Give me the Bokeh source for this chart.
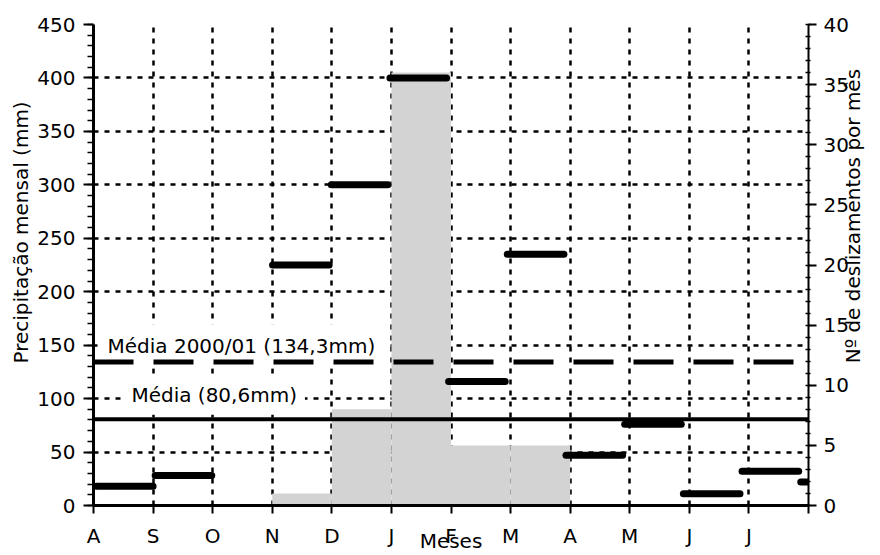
import math
from bokeh.plotting import figure
from bokeh.models import Range1d, LinearAxis, FixedTicker, Label, Span, Title
from bokeh.embed import file_html
from bokeh.resources import INLINE

# ---- data ----
meses = ["A", "S", "O", "N", "D", "J", "F", "M", "A", "M", "J", "J"]
precip_mm = [18, 28, 118, 225, 300, 400, 116, 235, 47, 76, 11, 32, 22]
deslizamentos = [0, 0, 0, 1, 8, 36, 5, 5, 0, 0, 0, 0]
media_total = 80.6
media_2000 = 134.3
label_media_2000 = "Média 2000/01 (134,3mm)"
label_media_total = "Média (80,6mm)"
titulo_esq = "Precipitação mensal (mm)"
titulo_dir = "Nº de deslizamentos por mês"
titulo_x = "Meses"

FONT = "DejaVu Sans"
FS = "20px"
TITLE_TICK = 23.2  # where the rotated right-hand title is anchored (right scale)

p = figure(width=880, height=555, output_backend="svg", toolbar_location=None,
           x_range=Range1d(0, 12), y_range=Range1d(0, 450),
           min_border_left=93, min_border_right=70, min_border_top=24, min_border_bottom=50)
p.extra_y_ranges = {"n": Range1d(0, 40)}
p.outline_line_color = None
p.background_fill_color = "white"
p.border_fill_color = "white"

# grid
p.xgrid.ticker = FixedTicker(ticks=list(range(1, 12)))
p.ygrid.ticker = FixedTicker(ticks=list(range(50, 451, 50)))
for g in (p.xgrid[0], p.ygrid[0]):
    g.grid_line_color = "black"
    g.grid_line_width = 2.5
    g.grid_line_dash = "5 6"

# left axis
ya = p.yaxis[0]
ya.ticker = FixedTicker(ticks=list(range(0, 451, 50)), minor_ticks=list(range(0, 451, 10)))
ya.axis_line_width = 3
ya.major_tick_out = 10
ya.major_tick_in = 0
ya.minor_tick_out = 6
ya.minor_tick_in = 0
ya.major_tick_line_width = 2
ya.minor_tick_line_width = 1.5
ya.major_label_standoff = 8

# bottom axis
xa = p.xaxis[0]
xa.ticker = FixedTicker(ticks=list(range(13)), minor_ticks=[])
ov = {i: meses[i] for i in range(12)}
ov[12] = ""
xa.major_label_overrides = ov
xa.axis_line_width = 3
xa.major_tick_out = 8
xa.major_tick_in = 0
xa.major_tick_line_width = 2
xa.major_label_standoff = 10
xa.axis_label = titulo_x
xa.axis_label_standoff = -22
xa.axis_label_text_font_style = "normal"
xa.axis_label_text_line_height = 1.0
xa.major_label_text_line_height = 1.0

# right axis (landslides)
ra = LinearAxis(y_range_name="n",
                ticker=FixedTicker(ticks=list(range(0, 41, 5)), minor_ticks=list(range(0, 41, 1))))
ra.axis_line_width = 2
ra.major_tick_out = 8
ra.major_tick_in = 0
ra.minor_tick_out = 2
ra.minor_tick_in = 3
ra.major_tick_line_width = 2
ra.minor_tick_line_width = 1.5
ra.major_label_standoff = 7
p.add_layout(ra, "right")

# right title drawn as a rotated single tick label of an extra axis
rt = LinearAxis(y_range_name="n", ticker=FixedTicker(ticks=[TITLE_TICK], minor_ticks=[]))
rt.major_label_overrides = {TITLE_TICK: titulo_dir}
rt.major_label_orientation = math.pi / 2
rt.major_label_text_line_height = 1.0
rt.major_tick_out = 0
rt.major_tick_in = 0
rt.minor_tick_out = 0
rt.minor_tick_in = 0
rt.axis_line_color = None
rt.major_tick_line_color = None
rt.minor_tick_line_color = None
rt.major_label_standoff = 2
p.add_layout(rt, "right")

for ax in (ya, xa, ra, rt):
    ax.major_label_text_font = FONT
    ax.major_label_text_font_size = FS
    ax.major_label_text_color = "black"
    ax.axis_label_text_font = FONT
    ax.axis_label_text_font_size = FS
    ax.axis_label_text_color = "black"
for ax in (ya, xa, ra):
    ax.axis_line_color = "black"

# left title, positioned from the bottom of the frame
p.add_layout(Title(text=titulo_esq, align="left", offset=142,
                   text_font=FONT, text_font_size=FS, text_font_style="normal",
                   text_color="black", standoff=4), "left")

# landslide bars (right axis)
idx = list(range(len(deslizamentos)))
p.quad(left=idx, right=[i + 1 for i in idx], bottom=0, top=deslizamentos,
       y_range_name="n", fill_color="#d3d3d3", line_color=None)

# monthly precipitation segments
step = 0.985
x0 = [i * step + 0.05 for i in range(len(precip_mm))]
x1 = [x + 0.95 for x in x0]
p.segment(x0=x0, y0=precip_mm, x1=x1, y1=precip_mm, line_color="black",
          line_width=7, line_cap="round")

# average labels with white boxes (above grid)
p.add_layout(Label(x=0.067, y=149, text=label_media_2000, text_font=FONT,
                   text_font_size=FS, text_color="black", text_baseline="alphabetic",
                   background_fill_color="white", padding=10, level="glyph"))
p.add_layout(Label(x=0.502, y=103.5, text=label_media_total, text_font=FONT,
                   text_font_size=FS, text_color="black", text_baseline="alphabetic",
                   background_fill_color="white", padding=8, level="glyph"))

# average lines
p.add_layout(Span(location=media_2000, dimension="width", line_color="black",
                  line_width=5, line_dash="40 20"))
p.add_layout(Span(location=media_total, dimension="width", line_color="black",
                  line_width=4))

open("out.html", "w").write(file_html(p, INLINE))
